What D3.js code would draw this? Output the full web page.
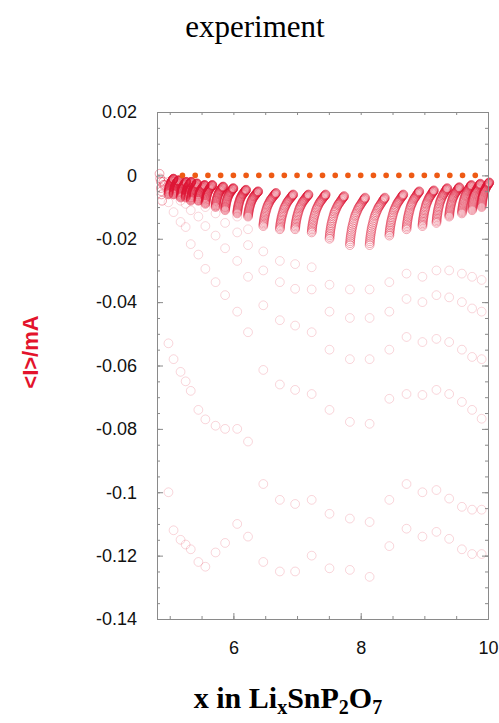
<!DOCTYPE html>
<html>
<head>
<meta charset="utf-8">
<script src="https://cdn.jsdelivr.net/npm/d3@7"></script>
<style>
  body { margin: 0; background: #fff; }
  svg { display: block; }
</style>
</head>
<body>
<div id="chart"></div>
<script>
// potential steps: x at the start of each step
var stepX = [4.98, 5.06, 5.17, 5.25, 5.33, 5.45, 5.56, 5.72, 5.87, 6.06, 6.23, 6.47, 6.73,
             6.97, 7.23, 7.51, 7.83, 8.14, 8.45, 8.72, 8.97, 9.19, 9.39, 9.59, 9.75, 9.9];

// first few current readings of every step (mA), earliest first
var i0 = [-0.100, -0.112, -0.115, -0.1165, -0.118, -0.122, -0.1235, -0.119, -0.116, -0.110, -0.114, -0.122, -0.125,
          -0.125, -0.120, -0.124, -0.1245, -0.1267, -0.117, -0.1115, -0.114, -0.1125, -0.1147, -0.118, -0.1195, -0.1195];
var i1 = [-0.053, -0.058, -0.062, -0.065, -0.068, -0.074, -0.077, -0.079, -0.080, -0.080, -0.084, -0.0974, -0.1024,
          -0.1037, -0.1024, -0.1068, -0.1083, -0.1094, -0.1024, -0.0974, -0.100, -0.0993, -0.102, -0.1046, -0.1055, -0.1055];
var i2 = [-0.0085, -0.0116, -0.0147, -0.0163, -0.0217, -0.025, -0.0295, -0.0337, -0.0378, -0.043, -0.0495, -0.0614, -0.066,
          -0.0677, -0.069, -0.074, -0.0778, -0.0784, -0.0705, -0.069, -0.0693, -0.0677, -0.069, -0.0715, -0.074, -0.0768];
var i3 = [-0.004, -0.006, -0.008, -0.009, -0.011, -0.013, -0.016, -0.019, -0.023, -0.027, -0.032, -0.041, -0.0457,
          -0.0474, -0.0495, -0.055, -0.058, -0.058, -0.055, -0.051, -0.0526, -0.0516, -0.0526, -0.055, -0.0573, -0.058];
var i4 = [-0.003, -0.004, -0.005, -0.006, -0.007, -0.008, -0.010, -0.012, -0.015, -0.018, -0.022, -0.030, -0.0337,
          -0.0358, -0.036, -0.043, -0.045, -0.045, -0.043, -0.039, -0.040, -0.0378, -0.0385, -0.040, -0.042, -0.043];
var i5 = [-0.002, -0.003, -0.004, -0.0045, -0.005, -0.006, -0.007, -0.008, -0.010, -0.013, -0.017, -0.024, -0.027,
          -0.028, -0.029, -0.0345, -0.036, -0.036, -0.0337, -0.031, -0.032, -0.030, -0.030, -0.031, -0.032, -0.033];

// slow tail of each step: current where the dense part starts / ends, and how far x moves
var tailBottom = [-0.006, -0.006, -0.007, -0.007, -0.008, -0.008, -0.009, -0.010, -0.011, -0.012, -0.013, -0.016, -0.017,
                  -0.017, -0.018, -0.020, -0.022, -0.022, -0.019, -0.017, -0.016, -0.015, -0.013, -0.012, -0.011, -0.010];
var tailTop = [-0.001, -0.0015, -0.002, -0.002, -0.0025, -0.003, -0.003, -0.0035, -0.004, -0.0045, -0.005, -0.0055, -0.006,
               -0.006, -0.006, -0.0065, -0.007, -0.007, -0.006, -0.005, -0.0047, -0.004, -0.0037, -0.003, -0.0026, -0.0022];
var tailWidth = [0.08, 0.08, 0.09, 0.09, 0.10, 0.10, 0.11, 0.12, 0.13, 0.14, 0.16, 0.20, 0.21,
                 0.21, 0.22, 0.23, 0.24, 0.24, 0.22, 0.20, 0.18, 0.17, 0.16, 0.15, 0.13, 0.12];
// shape of a tail (share of the drop already done, share of the x shift)
var tailFrac  = [0, 0.04, 0.08, 0.12, 0.16, 0.2, 0.24, 0.28, 0.32, 0.36, 0.4, 0.44, 0.48, 0.52, 0.56, 0.6, 0.63, 0.66,
                 0.69, 0.72, 0.75, 0.78, 0.8, 0.82, 0.84, 0.86, 0.88, 0.9, 0.92, 0.935, 0.95, 0.96, 0.97, 0.98, 0.99, 1];
var tailShift = [0, 0.01, 0.02, 0.03, 0.045, 0.06, 0.08, 0.1, 0.12, 0.14, 0.17, 0.2, 0.23, 0.26, 0.29, 0.33, 0.36, 0.4,
                 0.44, 0.48, 0.52, 0.56, 0.6, 0.64, 0.68, 0.72, 0.76, 0.8, 0.84, 0.87, 0.9, 0.93, 0.95, 0.97, 0.99, 1];

// the first points before the first step
var initX = [4.84, 4.85, 4.86, 4.86, 4.87, 4.87, 4.88, 4.90, 4.90, 4.92];
var initI = [0.0005, -0.001, -0.002, -0.004, -0.005, -0.006, -0.008, -0.003, -0.002, -0.003];

// equilibrium markers at zero current
var dotX = [5.2, 5.4, 5.6, 5.8, 6.0, 6.2, 6.4, 6.6, 6.8, 7.0, 7.2, 7.4,
            7.6, 7.8, 8.0, 8.2, 8.4, 8.6, 8.8, 9.0, 9.2, 9.4, 9.6, 9.8];

var xLabelTicks = [6, 8, 10];
var xMinorTicks = [5, 5.5, 6, 6.5, 7, 7.5, 8, 8.5, 9, 9.5, 10];
var yLabelTicks = [0.02, 0, -0.02, -0.04, -0.06, -0.08, -0.1, -0.12, -0.14];

var W = 499, H = 723;
var pLeft = 157, pTop = 112, pRight = 488, pBottom = 619;

var svg = d3.select("#chart").append("svg").attr("width", W).attr("height", H);

var x = d3.scaleLinear().domain([4.8, 10]).range([pLeft, pRight]);
var y = d3.scaleLinear().domain([-0.14, 0.02]).range([pBottom, pTop]);

// build the point list
var pts = [];
stepX.forEach(function(sx, k) {
  [i0, i1, i2, i3, i4, i5].forEach(function(arr) {
    pts.push({x: sx, i: arr[k], early: true});
  });
  tailFrac.forEach(function(f, j) {
    pts.push({x: sx + tailShift[j] * tailWidth[k], i: tailBottom[k] + f * (tailTop[k] - tailBottom[k]), early: false});
  });
});
initX.forEach(function(v, j) { pts.push({x: v, i: initI[j], early: false}); });

var plot = svg.append("g");
plot.selectAll("circle.pt").data(pts).enter().append("circle")
  .attr("class", "pt")
  .attr("cx", function(d) { return x(d.x); })
  .attr("cy", function(d) { return y(d.i); })
  .attr("r", 4.4)
  .attr("fill", "none")
  .attr("stroke", "#dc1434")
  .attr("stroke-width", function(d) { return d.early ? 0.9 : 1; })
  .attr("stroke-opacity", function(d) { return d.early ? 0.2 : 0.38; });

plot.selectAll("circle.dot").data(dotX).enter().append("circle")
  .attr("class", "dot")
  .attr("cx", function(d) { return x(d); })
  .attr("cy", y(0))
  .attr("r", 2.8)
  .attr("fill", "#ee5a14");

// frame and ticks (all inward)
var axColor = "#8a8a8a";
function styleAxis(g) {
  g.select(".domain").attr("stroke", axColor);
  g.selectAll(".tick line").attr("stroke", axColor);
  g.selectAll(".tick text").attr("fill", "#111").style("font-family", "Liberation Sans, Arial, sans-serif").style("font-size", "18px");
}

svg.append("g").attr("transform", "translate(0," + pBottom + ")")
  .call(d3.axisBottom(x).tickValues(xLabelTicks).tickSizeInner(-6).tickSizeOuter(0).tickPadding(22).tickFormat(d3.format("d")))
  .call(styleAxis);
svg.append("g").attr("transform", "translate(0," + pBottom + ")")
  .call(d3.axisBottom(x).tickValues(xMinorTicks).tickSizeInner(-3).tickSizeOuter(0).tickFormat(""))
  .call(styleAxis);
svg.append("g").attr("transform", "translate(0," + pTop + ")")
  .call(d3.axisTop(x).tickValues(xMinorTicks).tickSizeInner(-3).tickSizeOuter(0).tickFormat(""))
  .call(styleAxis);

function yFmt(d) { return d === 0 ? "0" : String(+d.toFixed(2)); }
svg.append("g").attr("transform", "translate(" + pLeft + ",0)")
  .call(d3.axisLeft(y).tickValues(yLabelTicks).tickSizeInner(-6).tickSizeOuter(0).tickPadding(20).tickFormat(yFmt))
  .call(styleAxis);
svg.append("g").attr("transform", "translate(" + pLeft + ",0)")
  .call(d3.axisLeft(y).ticks(32).tickSizeInner(-3).tickSizeOuter(0).tickFormat(""))
  .call(styleAxis);
svg.append("g").attr("transform", "translate(" + pRight + ",0)")
  .call(d3.axisRight(y).ticks(32).tickSizeInner(-3).tickSizeOuter(0).tickFormat(""))
  .call(styleAxis);
svg.append("g").attr("transform", "translate(" + pRight + ",0)")
  .call(d3.axisRight(y).tickValues(yLabelTicks).tickSizeInner(-6).tickSizeOuter(0).tickFormat(""))
  .call(styleAxis);

// titles
svg.append("text")
  .attr("x", 255).attr("y", 37)
  .attr("text-anchor", "middle")
  .style("font-family", "Liberation Serif, Times New Roman, serif")
  .style("font-size", "31px")
  .text("experiment");

svg.append("text")
  .attr("transform", "translate(38,352) rotate(-90)")
  .attr("text-anchor", "middle")
  .style("font-family", "Liberation Sans, Arial, sans-serif")
  .style("font-size", "22px")
  .style("font-weight", "bold")
  .attr("fill", "#e3132c")
  .text("<I>/mA");

var xt = svg.append("text")
  .attr("x", 288).attr("y", 708)
  .attr("text-anchor", "middle")
  .style("font-family", "Liberation Serif, Times New Roman, serif")
  .style("font-size", "30px")
  .style("font-weight", "bold");
xt.append("tspan").text("x in Li");
xt.append("tspan").attr("dy", 6).style("font-size", "20px").text("x");
xt.append("tspan").attr("dy", -6).text("SnP");
xt.append("tspan").attr("dy", 6).style("font-size", "20px").text("2");
xt.append("tspan").attr("dy", -6).text("O");
xt.append("tspan").attr("dy", 6).style("font-size", "20px").text("7");
</script>
</body>
</html>
